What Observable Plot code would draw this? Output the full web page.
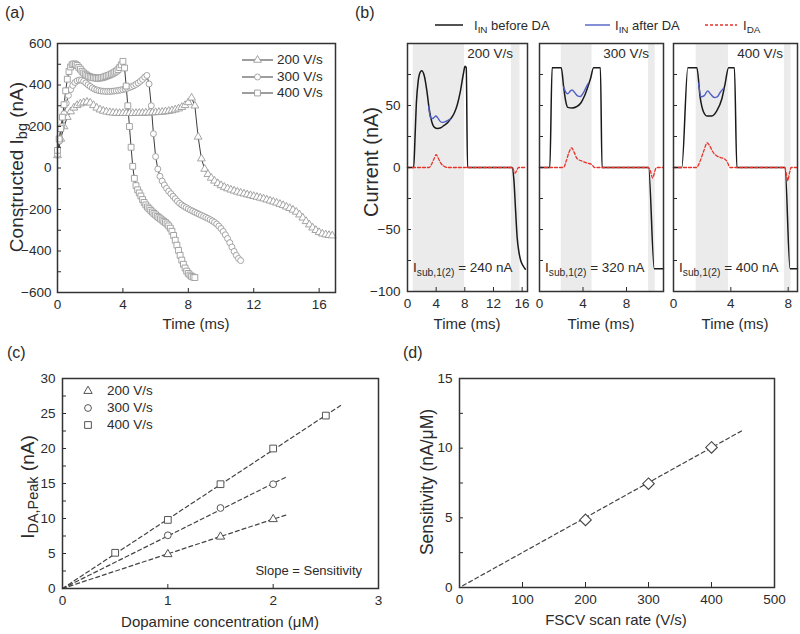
<!DOCTYPE html>
<html>
<head>
<meta charset="utf-8">
<script src="https://cdn.jsdelivr.net/npm/d3@7"></script>
<script src="https://cdn.jsdelivr.net/npm/@observablehq/plot@0.6"></script>
<style>
html,body{margin:0;padding:0;background:#fff;}
#fig{position:relative;width:800px;height:634px;overflow:hidden;font-family:"Liberation Sans",Arial,Helvetica,sans-serif;color:#2b2b2b;}
#fig .t{position:absolute;white-space:nowrap;line-height:1;}
#fig sub{font-size:0.76em;vertical-align:-0.32em;line-height:0;}
#fig svg.plot{position:absolute;}
</style>
</head>
<body>
<div id="fig"></div>
<script>
// ================= DATA =================
// (a) constructed background current (nA); samples at a fixed step in time (ms)
const aRates = ["200 V/s", "300 V/s", "400 V/s"];
const aStep200 = 0.2, aStep300 = 0.4 / 3, aStep400 = 0.1;
const ibg200 = [60,140,200,245,272,290,302,310,315,318,314,302,290,281,275,271,268,266,265,264,
  264,264,264,264,264,265,265,266,266,267,268,269,270,272,274,277,281,286,293,302,
  316,338,300,150,45,-5,-30,-48,-62,-74,-84,-92,-99,-105,-110,-115,-120,-124,-128,-132,
  -136,-140,-144,-148,-153,-158,-163,-168,-174,-180,-187,-194,-202,-212,-225,-240,-257,-273,-288,-300,
  -310,-317,-321,-324,-326];
const ibg300 = [65,130,200,262,312,350,378,398,412,420,424,423,418,410,401,393,386,380,376,373,
  371,370,369,369,369,370,371,372,374,376,378,381,384,388,392,397,403,410,418,427,
  438,446,405,300,165,55,-5,-40,-63,-82,-98,-112,-124,-136,-148,-160,-170,-178,-185,-191,
  -197,-203,-208,-213,-218,-223,-228,-233,-238,-243,-249,-255,-262,-270,-280,-292,-306,-322,-340,-360,
  -381,-402,-421,-436,-446];
const ibg400 = [85,140,190,245,305,372,428,465,487,498,502,500,494,485,476,466,458,452,447,442,
  439,437,435,434,433,433,434,435,437,440,443,446,449,453,457,462,467,474,484,497,
  514,482,395,300,200,100,8,-50,-85,-105,-120,-135,-152,-166,-178,-188,-196,-204,-212,-219,
  -226,-233,-239,-245,-251,-257,-263,-270,-279,-290,-305,-325,-348,-372,-397,-421,-444,-464,-482,-497,
  -508,-516,-522,-526,-528];
const aXTicks = [0, 4, 8, 12, 16];
const aYLabels = [-600, -400, -200, 0, 200, 400, 600];
const aYTicks = [-500, -400, -300, -200, -100, 0, 100, 200, 300, 400, 500];

// (b) input current before / after DA and the DA current, [time ms, nA]
const bRates = ["200 V/s", "300 V/s", "400 V/s"];
const bIsub = [240, 320, 400];
const bXMax = [16.75, 11.4, 8.65];
const bXTicks = [[0, 4, 8, 12, 16], [0, 4, 8], [0, 4, 8]];
const bYLabels = [50, 0, -50, -100];
const bYTicks = [-75, -50, -25, 0, 25, 50, 75];
const bShades = [[[0.8, 7.95], [14.5, 15.7]], [[2.0, 4.83], [10.03, 10.64]], [[1.58, 3.83], [7.74, 8.2]]];
const bBefore200 = [[0,0],[0.86,0],[1.05,24],[1.23,51],[1.5,70],[1.78,77],[1.97,78],[2.34,74],[2.7,62],[3.03,47],
  [3.36,37.5],[3.73,32.6],[4.19,31.5],[4.65,32],[5.1,34],[5.57,36],[6.0,39],[6.5,43.5],[6.97,51],[7.4,62],
  [7.8,75.6],[8.03,81.6],[8.2,80.5],[8.38,0],[14.6,0],[14.85,-10],[15.1,-36],[15.3,-56],[15.55,-68],[15.8,-75],
  [16.1,-79],[16.45,-82]];
const bAfter200 = [[2.95,49],[3.2,40.5],[3.45,39.5],[3.7,40.3],[3.95,41.5],[4.2,40.2],[4.5,37.6],[4.8,36.4],[5.1,36.6],[5.4,37.3],[5.7,38.2],[5.95,39]];
const bIda200 = [[0,0],[3.0,0],[3.35,2.5],[3.7,7],[4.0,10.3],[4.3,7.5],[4.65,3.5],[5.05,1.2],[5.6,0],[14.65,0],[14.85,-3],[15.0,-4.5],[15.2,-3],[15.5,0],[16.4,0]];
const bBefore300 = [[0,0],[0.95,0],[1.16,80.5],[2.0,80.5],[2.22,65],[2.4,54],[2.6,48.5],[3.0,48],[3.4,49],[3.8,52],
  [4.1,57],[4.4,64],[4.7,72],[4.97,80.5],[5.6,80.5],[5.75,0],[10.03,0],[10.55,-81.6],[11.4,-81.6]];
const bAfter300 = [[2.22,65],[2.4,61],[2.6,59.5],[2.85,61.8],[3.0,62.6],[3.2,60.8],[3.5,57.8],[3.75,57.3],[4.0,59.8],[4.25,64],[4.45,67.5]];
const bIda300 = [[0,0],[2.2,0],[2.45,5],[2.7,12],[2.95,15.8],[3.2,12],[3.45,7.3],[3.9,5.2],[4.35,3.6],[4.8,2.5],[5.05,0],[10.0,0],[10.2,-3],[10.4,-8.5],[10.6,-3],[10.75,0],[11.4,0]];
const bBefore400 = [[0,0],[0.58,0],[1.0,80.5],[1.63,80.5],[1.86,56.6],[2.09,45],[2.35,41.5],[2.67,41.6],[3.02,45.7],[3.37,55.2],
  [3.6,67.5],[3.84,80.5],[4.25,80.5],[4.42,0],[7.78,0],[8.13,-81.6],[8.65,-81.6]];
const bAfter400 = [[1.75,68],[1.92,57],[2.15,58],[2.38,61.8],[2.6,59],[2.85,56.5],[3.05,57],[3.25,60.5],[3.5,64]];
const bIda400 = [[0,0],[1.6,0],[1.85,5],[2.1,13],[2.35,19.9],[2.55,17],[2.75,12.5],[3.0,9.5],[3.3,8],[3.55,7],[3.75,4.5],[3.95,0],[7.75,0],[7.85,-4],[7.97,-10.5],[8.1,-4],[8.2,0],[8.65,0]];

// (c) peak DA current vs concentration, [µM, nA]
const cRates = ["200 V/s", "300 V/s", "400 V/s"];
const c200 = [[1, 4.9], [1.5, 7.4], [2, 9.9]];
const c300 = [[1, 7.6], [1.5, 11.5], [2, 14.9]];
const c400 = [[0.5, 5.1], [1, 9.8], [1.5, 14.9], [2, 20.0], [2.5, 24.7]];
const cSlopes = [4.95, 7.5, 9.9];
const cFitEnd = [2.13, 2.13, 2.64];
const cXLabels = [0, 1, 2, 3];
const cXTicks = [1, 2];
const cYLabels = [0, 5, 10, 15, 20, 25, 30];
const cYTicks = [2.5, 5, 7.5, 10, 12.5, 15, 17.5, 20, 22.5, 25, 27.5];

// (d) sensitivity vs scan rate
const dRate = [200, 300, 400];
const dSens = [4.85, 7.45, 10.05];
const dSlope = 0.0251;
const dFitRange = [5, 450];
const dXLabels = [0, 100, 200, 300, 400, 500];
const dXTicks = [100, 200, 300, 400];
const dYLabels = [0, 5, 10, 15];
const dYTicks = [2.5, 5, 7.5, 10, 12.5];

// ================= DRAW =================
const fig = document.getElementById("fig");
const FONT = '"Liberation Sans", Arial, Helvetica, sans-serif';
const INK = "#2b2b2b";
function makePlot(pos, opts) {
  const p = Plot.plot({...opts, style: {fontFamily: FONT, fontSize: "13.5px", color: INK, background: "transparent", overflow: "visible"}});
  p.classList.add("plot");
  p.style.left = pos.left + "px";
  p.style.top = pos.top + "px";
  fig.appendChild(p);
  return p;
}
function text(html, x, y, {size = 13, anchor = "start", rotate = false} = {}) {
  const d = document.createElement("div");
  d.className = "t";
  d.innerHTML = html;
  d.style.left = x + "px";
  d.style.top = y + "px";
  d.style.fontSize = size + "px";
  const tx = anchor === "start" ? "0" : anchor === "middle" ? "-50%" : "-100%";
  d.style.transform = rotate ? "translate(-50%,-50%) rotate(-90deg)" : `translate(${tx},-50%)`;
  fig.appendChild(d);
}
const blank = () => "";
const X = d => d[0], Y = d => d[1];

// ---- (a)
const aSeries = [ibg200.map((v, i) => ({t: i * aStep200, v})),
                 ibg300.map((v, i) => ({t: i * aStep300, v})),
                 ibg400.map((v, i) => ({t: i * aStep400, v}))];
const aSym = [["triangle", 2.9], ["circle", 3.0], ["square", 3.3]];
makePlot({left: 0, top: 0}, {
  width: 345, height: 318, marginLeft: 57, marginRight: 10, marginTop: 43, marginBottom: 26,
  x: {domain: [0, 17]}, y: {domain: [-600, 600]},
  marks: [
    ...aSeries.map(s => Plot.line(s, {x: "t", y: "v", stroke: "#3c3c3c", strokeWidth: 1})),
    ...aSeries.map((s, k) => Plot.dot(s, {x: "t", y: "v", symbol: aSym[k][0], r: aSym[k][1], fill: "white", stroke: "#9b9b9b", strokeWidth: 0.9})),
    Plot.axisX(aXTicks, {tickSize: -4, tickFormat: blank, label: null}),
    Plot.axisX(aXTicks, {tickSize: 0, tickPadding: 7, label: null}),
    Plot.axisY(aYTicks, {tickSize: -4, tickFormat: blank, label: null}),
    Plot.axisY(aYLabels, {tickSize: 0, tickPadding: 6, label: null}),
    Plot.frame({stroke: "#333", strokeWidth: 1.5})
  ]
});

// ---- (b)
const bBefore = [bBefore200, bBefore300, bBefore400];
const bAfter = [bAfter200, bAfter300, bAfter400];
const bIda = [bIda200, bIda300, bIda400];
const bFrameL = [407, 539, 673], bFrameR = [527, 663, 797];
bRates.forEach((r, i) => {
  const left = i === 0 ? 360 : bFrameL[i] - 10;
  makePlot({left, top: 0}, {
    width: bFrameR[i] + 4 - left, height: 318,
    marginLeft: bFrameL[i] - left, marginRight: 4, marginTop: 43, marginBottom: 27,
    x: {domain: [0, bXMax[i]]}, y: {domain: [-100, 100]},
    marks: [
      Plot.barX(bShades[i], {x1: X, x2: Y, fill: "#ebebeb"}),
      Plot.line(bBefore[i], {x: X, y: Y, stroke: "#1a1a1a", strokeWidth: 1.5, curve: "monotone-x"}),
      Plot.line(bAfter[i], {x: X, y: Y, stroke: "#4f5fc4", strokeWidth: 1.4, curve: "monotone-x"}),
      Plot.line(bIda[i], {x: X, y: Y, stroke: "#e8332b", strokeWidth: 1.3, strokeDasharray: "3,2", curve: "monotone-x"}),
      Plot.axisX(bXTicks[i], {tickSize: -4, tickFormat: blank, label: null}),
      Plot.axisX(bXTicks[i], {tickSize: 0, tickPadding: 7, label: null}),
      Plot.axisY(bYTicks, {tickSize: -4, tickFormat: blank, label: null}),
      ...(i === 0 ? [Plot.axisY(bYLabels, {tickSize: 0, tickPadding: 7, label: null})] : []),
      Plot.frame({stroke: "#333", strokeWidth: 1.5})
    ]
  });
});

// ---- (c)
const cSeries = [c200, c300, c400];
const cSym = [["triangle", 3.1], ["circle", 3.4], ["square", 3.8]];
makePlot({left: 0, top: 330}, {
  width: 392, height: 304, marginLeft: 62, marginRight: 14, marginTop: 48, marginBottom: 46,
  x: {domain: [0, 3]}, y: {domain: [0, 30]},
  marks: [
    ...cSlopes.map((s, k) => Plot.line([[0, 0], [cFitEnd[k], s * cFitEnd[k]]], {x: X, y: Y, stroke: "#444", strokeWidth: 1.2, strokeDasharray: "4,3"})),
    ...cSeries.map((s, k) => Plot.dot(s, {x: X, y: Y, symbol: cSym[k][0], r: cSym[k][1], fill: "white", stroke: "#555", strokeWidth: 1})),
    Plot.axisX(cXTicks, {tickSize: -4, tickFormat: blank, label: null}),
    Plot.axisX(cXLabels, {tickSize: 0, tickPadding: 7, label: null}),
    Plot.axisY(cYTicks, {tickSize: -4, tickFormat: blank, label: null}),
    Plot.axisY(cYLabels, {tickSize: 0, tickPadding: 7, label: null}),
    Plot.frame({stroke: "#333", strokeWidth: 1.5})
  ]
});

// ---- (d)
const dPoints = dRate.map((r, i) => [r, dSens[i]]);
makePlot({left: 400, top: 330}, {
  width: 380, height: 304, marginLeft: 59, marginRight: 6, marginTop: 48, marginBottom: 47,
  x: {domain: [0, 500]}, y: {domain: [0, 15]},
  marks: [
    Plot.line(dFitRange.map(x => [x, dSlope * x]), {x: X, y: Y, stroke: "#444", strokeWidth: 1.2, strokeDasharray: "4,3"}),
    Plot.dot(dPoints, {x: X, y: Y, symbol: "diamond2", r: 5.2, fill: "white", stroke: "#444", strokeWidth: 1.1}),
    Plot.axisX(dXTicks, {tickSize: -5, tickFormat: blank, label: null}),
    Plot.axisX(dXLabels, {tickSize: 0, tickPadding: 7, label: null}),
    Plot.axisY(dYTicks, {tickSize: -4, tickFormat: blank, label: null}),
    Plot.axisY(dYLabels, {tickSize: 0, tickPadding: 7, label: null}),
    Plot.frame({stroke: "#333", strokeWidth: 1.5})
  ]
});

// ---- texts
text("(a)", 5, 13, {size: 16});
text("(b)", 355, 13, {size: 16});
text("(c)", 7, 353, {size: 16});
text("(d)", 403, 353, {size: 16});

text("Constructed I<sub>bg</sub> (nA)", 16, 167, {size: 19, rotate: true});
text("Time (ms)", 196, 323, {size: 15, anchor: "middle"});
aRates.forEach((r, k) => text(r, 277, [60, 77, 93][k], {size: 13.5}));

text("Current (nA)", 371, 162, {size: 20, rotate: true});
text("I<sub>IN</sub> before DA", 474, 25, {size: 13});
text("I<sub>IN</sub> after DA", 615, 25, {size: 13});
text("I<sub>DA</sub>", 743, 25, {size: 13});
bRates.forEach((r, i) => {
  text("Time (ms)", (bFrameL[i] + bFrameR[i]) / 2, 323, {size: 15, anchor: "middle"});
  text(r, bFrameR[i] - 14, 54, {size: 13.5, anchor: "end"});
  text(`I<sub>sub,1(2)</sub> = ${bIsub[i]} nA`, bFrameL[i] + 6, 268, {size: 13.5});
});

text("I<sub>DA,Peak</sub> (nA)", 27, 487, {size: 19, rotate: true});
text("Dopamine concentration (μM)", 220, 621, {size: 15, anchor: "middle"});
cRates.forEach((r, k) => text(r, 107, [391, 408, 425][k], {size: 13.5}));
text("Slope = Sensitivity", 362, 570, {size: 13, anchor: "end"});

text("Sensitivity (nA/μM)", 428, 482, {size: 17.5, rotate: true});
text("FSCV scan rate (V/s)", 616, 619, {size: 15, anchor: "middle"});

// ---- legend glyphs
const ov = d3.create("svg").attr("width", 800).attr("height", 634)
  .style("position", "absolute").style("left", "0px").style("top", "0px").style("pointer-events", "none");
const symType = {triangle: d3.symbolTriangle, circle: d3.symbolCircle, square: d3.symbolSquare};
[60, 77, 93].forEach((y, k) => {
  ov.append("line").attr("x1", 242).attr("x2", 273).attr("y1", y).attr("y2", y).attr("stroke", "#3c3c3c");
  ov.append("path").attr("d", d3.symbol(symType[aSym[k][0]], Math.PI * aSym[k][1] ** 2)())
    .attr("transform", `translate(257.5,${y})`).attr("fill", "white").attr("stroke", "#9b9b9b").attr("stroke-width", 0.9);
});
ov.append("line").attr("x1", 435).attr("x2", 463).attr("y1", 25).attr("y2", 25).attr("stroke", "#1a1a1a").attr("stroke-width", 1.5);
ov.append("line").attr("x1", 585).attr("x2", 610).attr("y1", 25).attr("y2", 25).attr("stroke", "#4f5fc4").attr("stroke-width", 1.4);
ov.append("line").attr("x1", 705).attr("x2", 737).attr("y1", 25).attr("y2", 25).attr("stroke", "#e8332b").attr("stroke-width", 1.3).attr("stroke-dasharray", "3,2");
[391, 408, 425].forEach((y, k) => {
  ov.append("path").attr("d", d3.symbol(symType[cSym[k][0]], Math.PI * cSym[k][1] ** 2)())
    .attr("transform", `translate(88,${y})`).attr("fill", "white").attr("stroke", "#555");
});
fig.appendChild(ov.node());
</script>
</body>
</html>
